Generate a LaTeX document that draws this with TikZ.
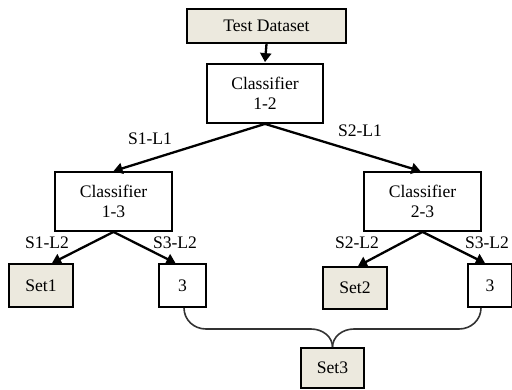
\documentclass[tikz,border=0pt]{standalone}
\usepackage{fontspec}
\setmainfont{Liberation Serif}
\usetikzlibrary{arrows.meta}
\definecolor{beige}{RGB}{236,233,222}
\begin{document}
\begin{tikzpicture}[x=1pt,y=-1pt,
  box/.style={draw=black,line width=1.8pt,fill=white,inner sep=0pt,align=center,font=\fontsize{17.6}{20.5}\selectfont},
  setbox/.style={box,fill=beige},
  arr/.style={line width=2.3pt,-{Triangle[length=9pt,width=11pt]}},
  lbl/.style={font=\fontsize{17.6}{20.5}\selectfont,inner sep=0pt},
  brace/.style={line width=1.6pt,draw=black!80}]
\useasboundingbox (0,0) rectangle (512,389);
\node[setbox,minimum width=159pt,minimum height=34pt] (td) at (266.5,26) {Test Dataset};
\node[box,minimum width=116pt,minimum height=59pt] (c12) at (265,93.5) {Classifier\\1-2};
\node[box,minimum width=117pt,minimum height=59pt] (c13) at (113.5,201.5) {Classifier\\1-3};
\node[box,minimum width=117pt,minimum height=59pt] (c23) at (422.5,201.5) {Classifier\\2-3};
\node[setbox,minimum width=64pt,minimum height=43pt] (s1) at (41,285.5) {Set1};
\node[box,minimum width=47pt,minimum height=43pt] (l3) at (182.5,285.5) {3};
\node[setbox,minimum width=64pt,minimum height=42pt] (s2) at (355,288) {Set2};
\node[box,minimum width=44pt,minimum height=43pt] (r3) at (490,285.5) {3};
\node[setbox,minimum width=63pt,minimum height=40pt] (s3) at (332.5,368) {Set3};

\draw[arr] (td.south) -- ([yshift=1pt]c12.north);
\draw[arr] (c12.south) -- (c13.north);
\draw[arr] (c12.south) -- ([xshift=-2pt]c23.north);
\draw[arr] (c13.south) -- ([xshift=11pt]s1.north);
\draw[arr] (c13.south) -- ([xshift=-7pt]l3.north);
\draw[arr] (c23.south) -- ([xshift=3pt]s2.north);
\draw[arr] (c23.south) -- ([xshift=-5pt]r3.north);

\node[lbl] (la) at (150,138.5) {S1-L1};
\node[lbl] (lb) at (360,131) {S2-L1};
\node[lbl] (lc) at (47,243) {S1-L2};
\node[lbl] (ld) at (175,243) {S3-L2};
\node[lbl] (le) at (357,243) {S2-L2};
\node[lbl] (lf) at (487,243) {S3-L2};

\coordinate (bl) at ([xshift=1.5pt]l3.south);
\coordinate (br) at ([xshift=-9pt]r3.south);
\draw[brace] (bl) .. controls (184,320) and (194,329) .. (206,329) -- (311,329) .. controls (323,329) and (332.5,337) .. (s3.north);
\draw[brace] (br) .. controls (481,320) and (471,329) .. (459,329) -- (354,329) .. controls (342,329) and (332.5,337) .. (s3.north);
\end{tikzpicture}
\end{document}
